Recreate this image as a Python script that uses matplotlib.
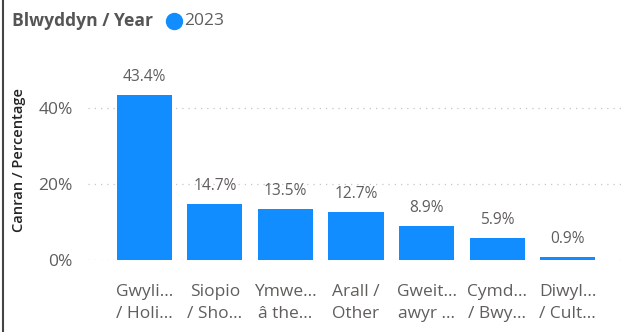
import matplotlib
matplotlib.use("Agg")
import matplotlib.pyplot as plt
from matplotlib.lines import Line2D

categories = [
    "Gwyli...\n/ Holi...",
    "Siopio\n/ Sho...",
    "Ymwe...\nâ the...",
    "Arall /\nOther",
    "Gweit...\nawyr ...",
    "Cymd...\n/ Bwy...",
    "Diwyl...\n/ Cult...",
]
values = [43.4, 14.7, 13.5, 12.7, 8.9, 5.9, 0.9]
y_ticks = [0, 20, 40]
series_name = "2023"

BLUE = "#118DFF"
GREY = "#605E5C"
DARK = "#252423"

plt.rcParams["font.family"] = ["Open Sans", "DejaVu Sans"]

W, H = 627, 332
fig = plt.figure(figsize=(W / 100, H / 100), dpi=100)

# plot area in pixel coordinates
left, right, top, bottom = 88, 624, 60, 260
ax = fig.add_axes([left / W, 1 - bottom / H, (right - left) / W, (bottom - top) / H])

x = list(range(len(values)))
ax.bar(x, values, width=0.78, color=BLUE, zorder=2)
ax.set_xlim(-0.80, 6.80)
ax.set_ylim(0, 52.6)

for xi, v in zip(x, values):
    ax.annotate(f"{v:.1f}%", (xi, v), xytext=(0, 7), textcoords="offset points",
                ha="center", va="bottom", fontsize=11.2, color=GREY)

ax.set_yticks(y_ticks)
ax.set_yticklabels([f"{t}%" for t in y_ticks])
ax.yaxis.grid(True, linestyle=(0, (1, 4)), color="#C8C6C4", linewidth=0.9, zorder=0)
ax.set_xticks(x)
ax.set_xticklabels(categories, linespacing=1.54)
ax.tick_params(axis="x", length=0, pad=17, labelsize=12.5, labelcolor=GREY)
ax.tick_params(axis="y", length=0, pad=11, labelsize=12.5, labelcolor=GREY)
for s in ax.spines.values():
    s.set_visible(False)

ax.set_ylabel("Canran / Percentage", fontsize=10.5, color=DARK, fontweight="semibold")
ax.yaxis.set_label_coords((26 - left) / (right - left), 0.5)

# legend header
fig.text(12 / W, 1 - 21 / H, "Blwyddyn / Year", fontsize=12.6, fontweight="bold",
         color="#555555", ha="left", va="center")
fig.add_artist(Line2D([174 / W], [1 - 21 / H], marker="o", markersize=11.5,
                      color=BLUE, transform=fig.transFigure))
fig.text(184 / W, 1 - 21 / H, series_name, fontsize=12.5, color=GREY, ha="left", va="center")

# left frame line
fig.add_artist(Line2D([2.5 / W, 2.5 / W], [0, 1], color="#444444", linewidth=1.5,
                      transform=fig.transFigure))

fig.savefig("out.png", dpi=100)
